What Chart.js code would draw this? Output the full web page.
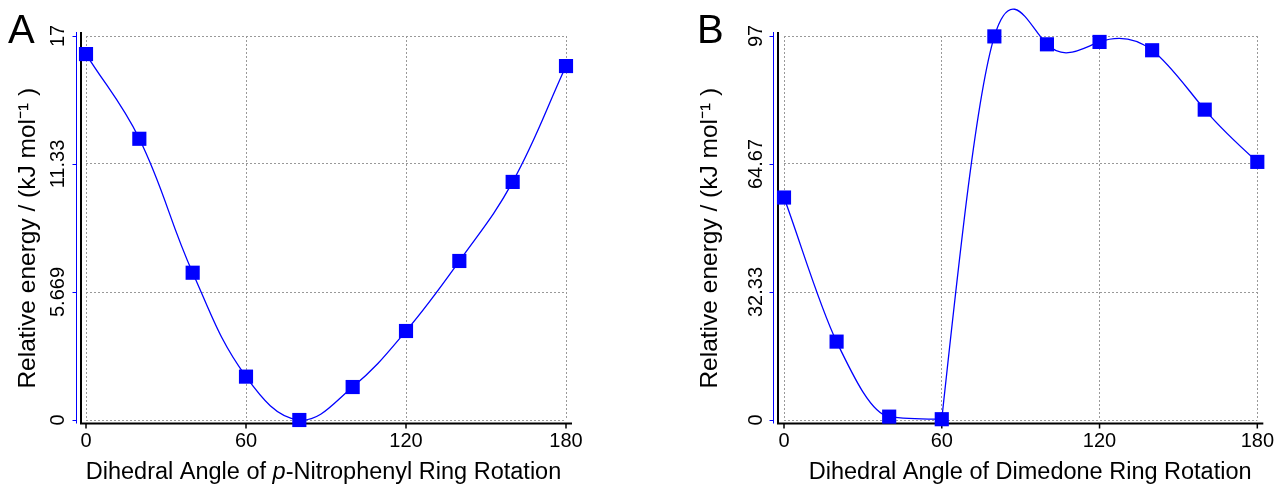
<!DOCTYPE html>
<html lang="en">
<head>
    <meta charset="UTF-8">
    <title>Dihedral scans</title>
    <script src="https://cdn.jsdelivr.net/npm/chart.js@4.4.0/dist/chart.umd.min.js"></script>
    <style>
        body {
            margin: 0;
            background: #fff;
        }
        #chartA, #chartB {
            position: absolute;
            top: 0;
        }
        #chartA { left: 0; }
        #chartB { left: 680px; }
    </style>
</head>
<body>
    <canvas id="chartA" width="680" height="487"></canvas>
    <canvas id="chartB" width="603" height="487"></canvas>

<script>
// angles (deg) used in both scans
const angles = [0, 20, 40, 60, 80, 100, 120, 140, 160, 180];

// panel A: p-nitrophenyl ring rotation (kJ/mol)
const energyA = [16.2, 12.45, 6.52, 1.92, 0, 1.46, 3.94, 7.04, 10.54, 15.67];
// panel B: dimedone ring rotation (kJ/mol)
const energyB = [56.2, 19.8, 0.85, 0.2, 96.9, 94.9, 95.5, 93.4, 78.4, 65.2];
// B curve is drawn in two pieces, joined at this index (60 deg)
const splitB = 3;

const xTicks = [0, 60, 120, 180];
const yTicksA = [0, 17 / 3, 34 / 3, 17];
const yLabelsA = ['0', '5.669', '11.33', '17'];
const yTicksB = [0, 97 / 3, 194 / 3, 97];
const yLabelsB = ['0', '32.33', '64.67', '97'];

const FONT = 'Arial, "Liberation Sans", sans-serif';
const BLUE = '#0000ff';

// offset axes, blue y line, panel letter and the x title (italic p needs mixed fonts)
const axisDecor = {
    id: 'axisDecor',
    beforeDatasetsDraw(chart, args, o) {
        const {ctx, chartArea: a, scales: {x, y}} = chart;
        const bx = a.left - o.blueGap + 0.5;
        const kx = a.left - o.blackGap;
        const ky = a.bottom + 3.5;
        ctx.save();
        ctx.strokeStyle = BLUE;
        ctx.lineWidth = 1;
        ctx.beginPath();
        ctx.moveTo(bx, a.top - 4);
        ctx.lineTo(bx, ky);
        y.ticks.forEach(t => {
            const py = Math.round(y.getPixelForValue(t.value)) + 0.5;
            ctx.moveTo(bx - 4, py);
            ctx.lineTo(bx, py);
        });
        ctx.stroke();

        ctx.strokeStyle = '#000';
        ctx.lineWidth = 2;
        ctx.beginPath();
        ctx.moveTo(kx, a.top - 4);
        ctx.lineTo(kx, ky);
        ctx.lineTo(a.right + 6, ky);
        ctx.stroke();
        ctx.lineWidth = 1.5;
        ctx.beginPath();
        x.ticks.forEach(t => {
            const px = x.getPixelForValue(t.value);
            ctx.moveTo(px, ky);
            ctx.lineTo(px, ky + 5);
        });
        ctx.stroke();
        ctx.restore();
    },
    afterDraw(chart, args, o) {
        const {ctx, chartArea: a} = chart;
        ctx.save();
        ctx.fillStyle = '#000';
        ctx.font = '40px ' + FONT;
        ctx.textBaseline = 'alphabetic';
        ctx.textAlign = 'left';
        ctx.fillText(o.letter, o.letterX, 43);

        const fonts = o.title.map(s => (s.italic ? 'italic ' : '') + '23.5px ' + FONT);
        let total = 0;
        const widths = o.title.map((s, i) => {
            ctx.font = fonts[i];
            const w = ctx.measureText(s.text).width;
            total += w;
            return w;
        });
        let tx = (a.left + a.right) / 2 + o.titleShift - total / 2;
        o.title.forEach((s, i) => {
            ctx.font = fonts[i];
            ctx.fillText(s.text, tx, 479);
            tx += widths[i];
        });
        ctx.restore();
    }
};

// natural cubic spline through a dataset's points (replaces chart.js control points)
const naturalSpline = {
    id: 'naturalSpline',
    beforeDatasetsDraw(chart, args, o) {
        (o.datasets || []).forEach(di => {
            const meta = chart.getDatasetMeta(di);
            const pts = meta.data;
            meta.dataset.updateControlPoints(chart.chartArea, 'x');
            const n = pts.length;
            const h = [], d = [];
            for (let i = 0; i < n - 1; i++) {
                h.push(pts[i + 1].x - pts[i].x);
                d.push((pts[i + 1].y - pts[i].y) / h[i]);
            }
            const M = new Array(n).fill(0);
            const a = [], b = [], c = [], r = [];
            for (let i = 1; i < n - 1; i++) {
                a.push(h[i - 1]);
                b.push(2 * (h[i - 1] + h[i]));
                c.push(h[i]);
                r.push(6 * (d[i] - d[i - 1]));
            }
            const m = b.length;
            for (let i = 1; i < m; i++) {
                const w = a[i] / b[i - 1];
                b[i] -= w * c[i - 1];
                r[i] -= w * r[i - 1];
            }
            for (let i = m - 1; i >= 0; i--) {
                M[i + 1] = (r[i] - c[i] * M[i + 2]) / b[i];
            }
            for (let i = 0; i < n - 1; i++) {
                const s0 = d[i] - h[i] * (2 * M[i] + M[i + 1]) / 6;
                const s1 = d[i] + h[i] * (M[i] + 2 * M[i + 1]) / 6;
                pts[i].cp2x = pts[i].x + h[i] / 3;
                pts[i].cp2y = pts[i].y + s0 * h[i] / 3;
                pts[i + 1].cp1x = pts[i + 1].x - h[i] / 3;
                pts[i + 1].cp1y = pts[i + 1].y - s1 * h[i] / 3;
            }
        });
    }
};

const lineStyle = {
    borderColor: BLUE,
    backgroundColor: BLUE,
    borderWidth: 1.3,
    tension: 0.4,
    capBezierPoints: false,
    pointStyle: 'rect',
    pointRadius: 10,
    pointHoverRadius: 10,
    pointBorderWidth: 0,
    clip: false
};

function points(xs, ys) {
    return xs.map((a, i) => ({x: a, y: ys[i]}));
}

function makeChart(id, datasets, yTicks, yLabels, yMax, cfg) {
    return new Chart(document.getElementById(id), {
        type: 'line',
        data: {datasets: datasets},
        options: {
            responsive: false,
            animation: false,
            devicePixelRatio: 1,
            layout: {padding: {left: 0, top: 36, right: cfg.padRight, bottom: 0}},
            plugins: {
                legend: {display: false},
                tooltip: {enabled: false},
                axisDecor: cfg.decor,
                naturalSpline: {datasets: cfg.splineSets || []}
            },
            scales: {
                x: {
                    type: 'linear',
                    min: 0,
                    max: 180,
                    afterBuildTicks: s => { s.ticks = xTicks.map(v => ({value: v})); },
                    afterFit: s => { s.height = 67; },
                    grid: {color: '#999', drawTicks: false},
                    border: {display: false, dash: [2, 2]},
                    ticks: {color: '#000', font: {family: FONT, size: 20}, padding: 9, maxRotation: 0}
                },
                y: {
                    min: 0,
                    max: yMax,
                    afterBuildTicks: s => { s.ticks = yTicks.map(v => ({value: v})); },
                    afterFit: s => { s.width = cfg.yWidth; },
                    grid: {color: '#999', drawTicks: false},
                    border: {display: false, dash: [2, 2]},
                    ticks: {
                        color: '#000',
                        font: {family: FONT, size: 20},
                        minRotation: 90,
                        maxRotation: 90,
                        crossAlign: 'center',
                        autoSkip: false,
                        padding: cfg.yPad,
                        callback: (v, i) => yLabels[i]
                    },
                    title: {
                        display: true,
                        // trailing spaces push the text a little down the axis, as in the original
                        text: 'Relative energy / (kJ mol\u207B\u00B9 )   ',
                        color: '#000',
                        font: {family: FONT, size: 24.5},
                        padding: {top: cfg.titlePad, bottom: 0}
                    }
                }
            }
        },
        plugins: [axisDecor, naturalSpline]
    });
}

makeChart('chartA', [
    Object.assign({data: points(angles, energyA)}, lineStyle)
], yTicksA, yLabelsA, 17, {
    padRight: 114, yWidth: 86, yPad: 2, titlePad: 14,
    decor: {
        blueGap: 10, blackGap: 5, letter: 'A', letterX: 8, titleShift: -2.5,
        title: [{text: 'Dihedral Angle of '}, {text: 'p', italic: true}, {text: '-Nitrophenyl Ring Rotation'}]
    }
});

makeChart('chartB', [
    Object.assign({}, lineStyle, {
        data: points(angles.slice(0, splitB + 1), energyB.slice(0, splitB + 1)),
        cubicInterpolationMode: 'monotone'
    }),
    Object.assign({}, lineStyle, {
        data: points(angles.slice(splitB), energyB.slice(splitB)),
        pointRadius: c => (c.dataIndex === 0 ? 0 : 10)
    })
], yTicksB, yLabelsB, 97, {
    padRight: 19, yWidth: 104, yPad: 2, titlePad: 15.5, splineSets: [1],
    decor: {
        blueGap: 11, blackGap: 6, letter: 'B', letterX: 17, titleShift: 9.5,
        title: [{text: 'Dihedral Angle of Dimedone Ring Rotation'}]
    }
});
</script>
</body>
</html>
